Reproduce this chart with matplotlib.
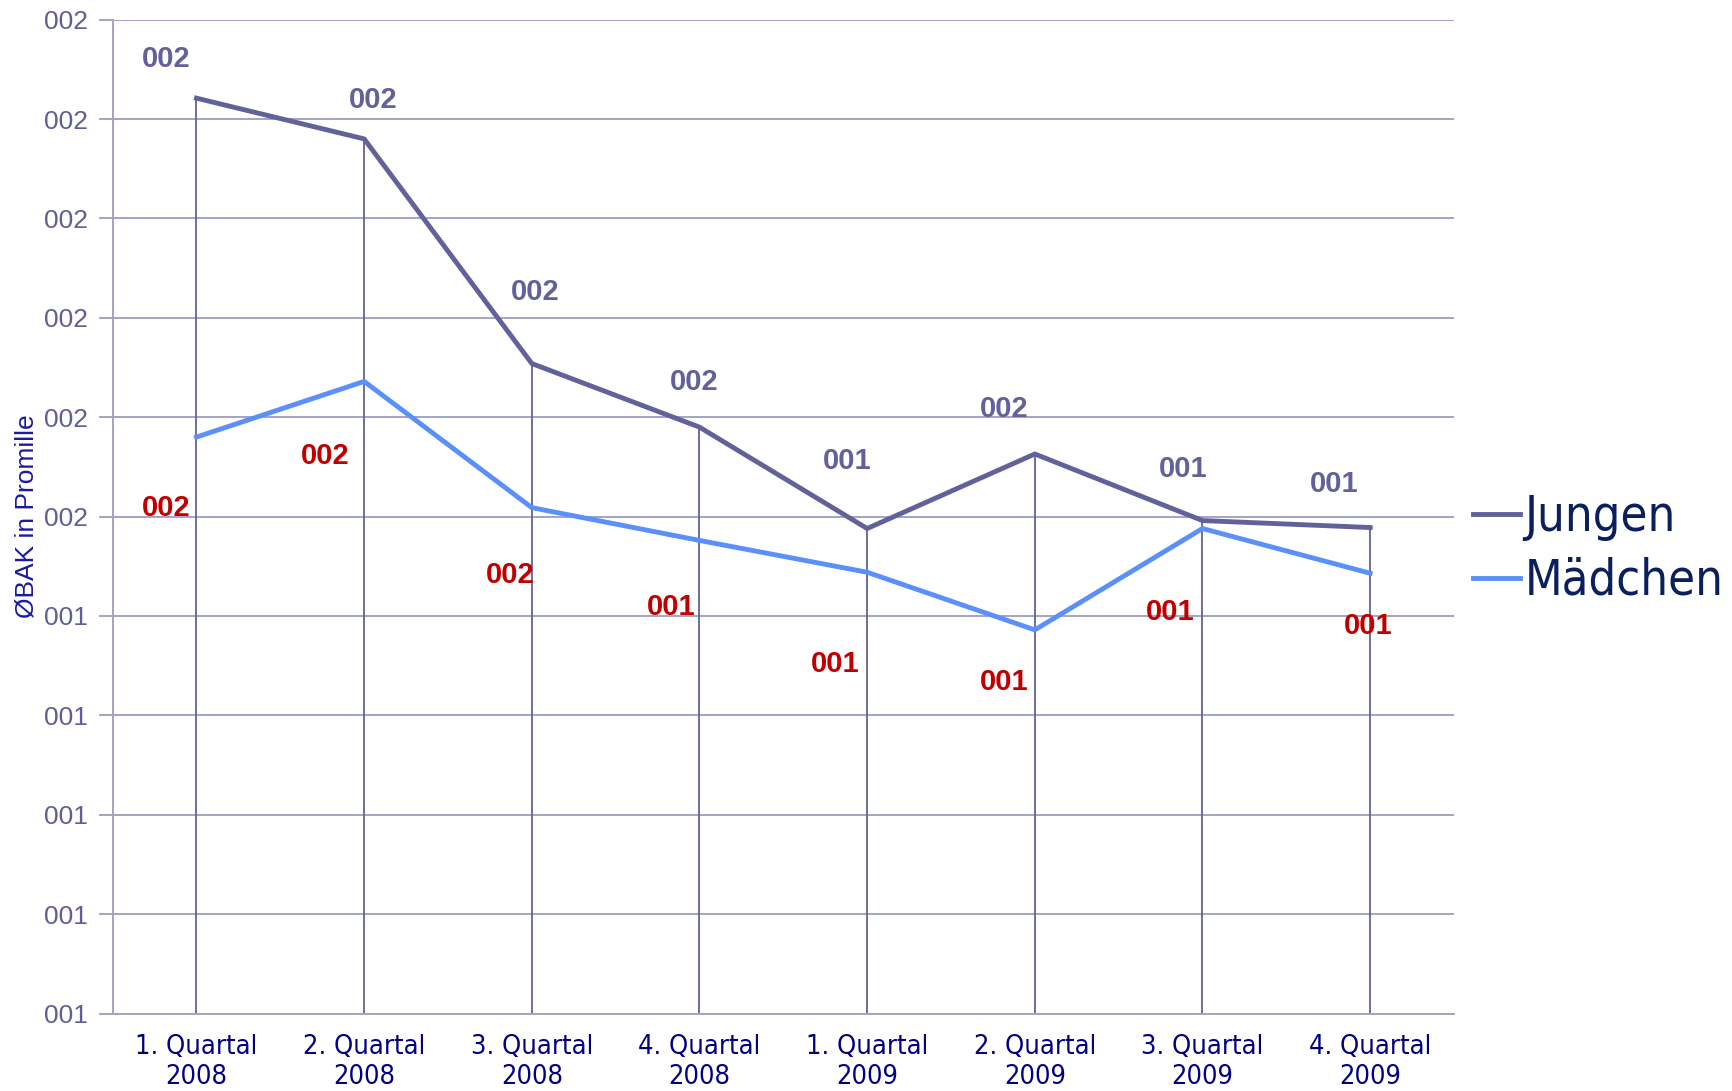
"""
plot.py
Durchschnittliche BAK (Promille) nach Quartal, Jungen vs. Mädchen
"""

import numpy as np
import matplotlib.pyplot as plt
from matplotlib.ticker import FuncFormatter

# Daten
quartale = ['1. Quartal\n2008', '2. Quartal\n2008', '3. Quartal\n2008', '4. Quartal\n2008',
            '1. Quartal\n2009', '2. Quartal\n2009', '3. Quartal\n2009', '4. Quartal\n2009']
jungen = [1.921, 1.880, 1.654, 1.590, 1.488, 1.563, 1.496, 1.489]
maedchen = [1.580, 1.636, 1.509, 1.476, 1.444, 1.386, 1.488, 1.443]
y_ticks = np.linspace(1.0, 2.0, 11)

# Label-Versatz in Pixeln (manuell platziert wie im Original)
off_jungen = [(-30, 39), (9, 39), (3, 72), (-5, 45), (-20, 68), (-31, 45), (-19, 52), (-36, 44)]
off_maedchen = [(-30, -71), (-39, -75), (-22, -67), (-28, -67), (-32, -92), (-31, -52), (-32, -83), (-2, -53)]

FARBE_J = '#62619a'
FARBE_M = '#5b8ff9'
FARBE_ROT = '#c00000'
FARBE_GRID = '#a3a3c4'


def fmt(v, pos=None):
    return f"{int(np.floor(v + 0.5 + 1e-9)):03d}"


fig = plt.figure(figsize=(17.33, 10.91), dpi=100)
ax = fig.add_axes([0.065, 0.071, 0.774, 0.911])

x = np.arange(len(quartale))

# Lotlinien von den Jungen-Punkten zur Achse
ax.vlines(x, 1.0, jungen, color=FARBE_J, lw=1.3, zorder=2)

l1, = ax.plot(x, jungen, color=FARBE_J, lw=3.5, label='Jungen', zorder=4)
l2, = ax.plot(x, maedchen, color=FARBE_M, lw=3.5, label='Mädchen', zorder=3)

for i, v in enumerate(jungen):
    ax.annotate(fmt(v), (x[i], v), xytext=off_jungen[i], textcoords='offset pixels',
                ha='center', va='center', fontsize=21, fontweight='bold',
                color=FARBE_J, family='Liberation Sans')
for i, v in enumerate(maedchen):
    ax.annotate(fmt(v), (x[i], v), xytext=off_maedchen[i], textcoords='offset pixels',
                ha='center', va='center', fontsize=21, fontweight='bold',
                color=FARBE_ROT, family='Liberation Sans')

ax.set_xlim(-0.5, len(quartale) - 0.5)
ax.set_ylim(1.0, 2.0)
ax.set_yticks(y_ticks)
ax.yaxis.set_major_formatter(FuncFormatter(fmt))
ax.set_xticks(x)
ax.set_xticklabels(quartale, fontsize=19.5, color='#000080', family='DejaVu Sans',
                   fontstretch='condensed', linespacing=1.2)

ax.grid(axis='y', color=FARBE_GRID, lw=1.4)
ax.set_axisbelow(True)
for s in ['top', 'right']:
    ax.spines[s].set_visible(False)
ax.spines['left'].set_color(FARBE_GRID)
ax.spines['bottom'].set_color(FARBE_GRID)
ax.spines['left'].set_linewidth(1.4)
ax.spines['bottom'].set_linewidth(1.4)
ax.tick_params(axis='y', length=10, width=1.4, color=FARBE_GRID, labelsize=19,
               labelcolor='#5f5f96', pad=8)
ax.tick_params(axis='x', length=0, pad=15)
for lab in ax.get_yticklabels():
    lab.set_family('Liberation Sans')

ax.set_ylabel('ØBAK in Promille', fontsize=19, color='#1a1aa0', family='Liberation Sans',
              labelpad=4)

leg = fig.legend(handles=[l1, l2], loc='center left', bbox_to_anchor=(0.839, 0.497),
                 frameon=False, fontsize=35, handlelength=0.95, handletextpad=0.1,
                 labelspacing=0.32, borderaxespad=0)
for t in leg.get_texts():
    t.set_color('#0a1f5c')
    t.set_family('DejaVu Sans')
    t.set_stretch('condensed')

plt.savefig('out.png', dpi=100)
